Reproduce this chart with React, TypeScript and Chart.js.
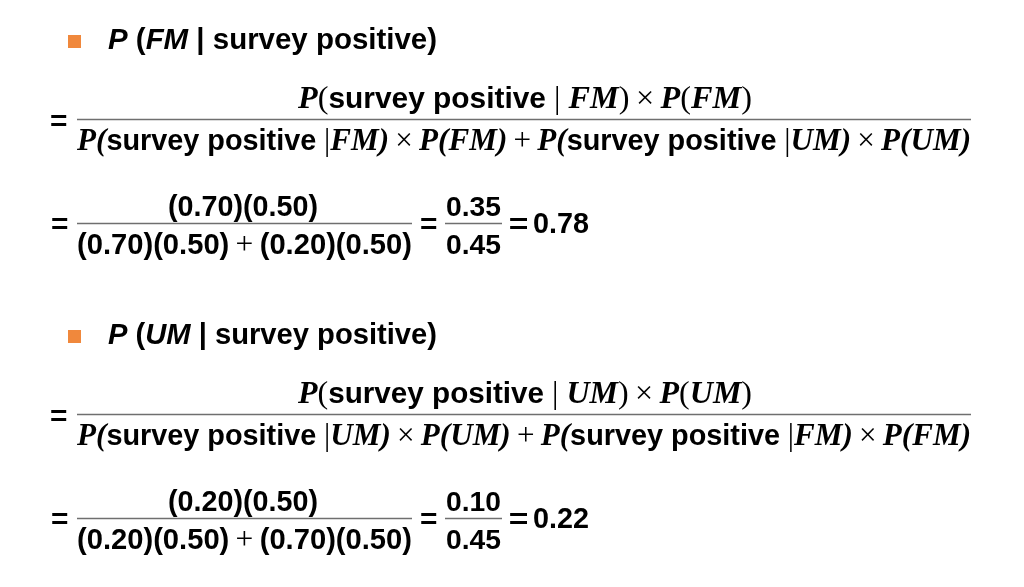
import React, { useEffect, useRef } from "react";
import { Chart, registerables } from "chart.js";

Chart.register(...registerables);

// ---- Data ----
const hypotheses = ["FM", "UM"];
const likelihoods = [0.7, 0.2]; // P(survey positive | H)
const priors = [0.5, 0.5]; // P(H)
const jointProbs = [0.35, 0.1]; // P(survey positive | H) x P(H)
const evidence = [0.45, 0.45]; // P(survey positive)
const posteriors = [0.78, 0.22]; // P(H | survey positive)
const conditionText = "survey positive";

type Style = "b" | "bi" | "m" | "mr";
type Run = [string, Style];

const SANS = '"Liberation Sans", Arial, sans-serif';
const SERIF = '"Liberation Serif", "Times New Roman", serif';
const TS = "\u2009";

function fontFor(style: Style, size: number): string {
  switch (style) {
    case "b":
      return `bold ${size}px ${SANS}`;
    case "bi":
      return `italic bold ${size}px ${SANS}`;
    case "m":
      return `italic bold ${size * 1.08}px ${SERIF}`;
    case "mr":
      return `${size * 1.08}px ${SERIF}`;
  }
}

// Draws runs so that they span x0..x1; font size scaled uniformly
function drawRuns(
  ctx: CanvasRenderingContext2D,
  runs: Run[],
  x0: number,
  x1: number,
  baseline: number,
  size: number
) {
  let w = 0;
  for (const [t, s] of runs) {
    ctx.font = fontFor(s, size);
    w += ctx.measureText(t).width;
  }
  const k = (x1 - x0) / w;
  ctx.save();
  ctx.translate(x0, baseline);
  ctx.scale(k, k);
  ctx.textBaseline = "alphabetic";
  ctx.textAlign = "left";
  let x = 0;
  for (const [t, s] of runs) {
    ctx.font = fontFor(s, size);
    ctx.fillText(t, x, 0);
    x += ctx.measureText(t).width;
  }
  ctx.restore();
}

function drawEq(ctx: CanvasRenderingContext2D, x0: number, x1: number, cy: number, size: number) {
  ctx.font = fontFor("b", size);
  const m = ctx.measureText("=");
  const baseline = cy + (m.actualBoundingBoxAscent - m.actualBoundingBoxDescent) / 2;
  const ox = m.actualBoundingBoxLeft;
  const gw = m.actualBoundingBoxLeft + m.actualBoundingBoxRight;
  ctx.save();
  ctx.translate(x0, baseline);
  ctx.scale((x1 - x0) / gw, 1);
  ctx.textAlign = "left";
  ctx.textBaseline = "alphabetic";
  ctx.fillText("=", ox, 0);
  ctx.restore();
}

function hline(ctx: CanvasRenderingContext2D, x0: number, x1: number, y: number) {
  ctx.save();
  ctx.strokeStyle = "#6f6f6f";
  ctx.lineWidth = 1.3;
  ctx.beginPath();
  ctx.moveTo(x0, y);
  ctx.lineTo(x1, y);
  ctx.stroke();
  ctx.restore();
}

const f2 = (v: number) => v.toFixed(2);

const formulaPlugin = {
  id: "bayesFormula",
  beforeDraw(chart: any) {
    const ctx: CanvasRenderingContext2D = chart.ctx;
    ctx.save();
    ctx.fillStyle = "#ffffff";
    ctx.fillRect(0, 0, chart.width, chart.height);
    ctx.restore();
  },
  afterDraw(chart: any) {
    const ctx: CanvasRenderingContext2D = chart.ctx;
    ctx.save();
    ctx.fillStyle = "#000000";
    hypotheses.forEach((h, i) => {
      const o = i === 0 ? 1 : 0;
      const other = hypotheses[o];
      const dy = i * 295;

      // bullet
      ctx.fillStyle = "#f0883c";
      ctx.fillRect(68, 35 + dy, 13, 13);
      ctx.fillStyle = "#000000";

      // heading
      drawRuns(
        ctx,
        [
          ["P", "bi"],
          [" (", "b"],
          [h, "bi"],
          [" | " + conditionText + ")", "b"],
        ],
        108,
        437,
        49 + dy,
        24
      );

      // symbolic fraction
      drawEq(ctx, 51, 67, 120 + dy, 28);
      drawRuns(
        ctx,
        [
          ["P", "m"],
          ["(", "mr"],
          [conditionText, "b"],
          [" | ", "mr"],
          [h, "m"],
          [")" + TS, "mr"],
          ["\u00d7", "mr"],
          [TS + "P", "m"],
          ["(", "mr"],
          [h, "m"],
          [")", "mr"],
        ],
        298,
        752,
        108 + dy,
        26
      );
      hline(ctx, 77, 971, 119.5 + dy);
      drawRuns(
        ctx,
        [
          ["P(", "m"],
          [conditionText, "b"],
          [" |", "mr"],
          [h + ")", "m"],
          [TS + "\u00d7" + TS, "mr"],
          ["P(" + h + ")", "m"],
          [TS + "+" + TS, "mr"],
          ["P(", "m"],
          [conditionText, "b"],
          [" |", "mr"],
          [other + ")", "m"],
          [TS + "\u00d7" + TS, "mr"],
          ["P(" + other + ")", "m"],
        ],
        77,
        971,
        150 + dy,
        26
      );

      // numeric fraction
      drawEq(ctx, 52, 68, 223 + dy, 28);
      drawRuns(
        ctx,
        [[`(${f2(likelihoods[i])})(${f2(priors[i])})`, "b"]],
        168,
        318,
        216 + dy,
        28
      );
      hline(ctx, 77, 412, 223.5 + dy);
      drawRuns(
        ctx,
        [
          [`(${f2(likelihoods[i])})(${f2(priors[i])})`, "b"],
          [TS + "+" + TS, "mr"],
          [`(${f2(likelihoods[o])})(${f2(priors[o])})`, "b"],
        ],
        77,
        412,
        254 + dy,
        28
      );

      drawEq(ctx, 421, 437, 223 + dy, 28);
      drawRuns(ctx, [[f2(jointProbs[i]), "b"]], 446, 501, 216 + dy, 28);
      hline(ctx, 445, 502, 223.5 + dy);
      drawRuns(ctx, [[f2(evidence[i]), "b"]], 446, 501, 254 + dy, 28);

      drawEq(ctx, 510, 528, 223 + dy, 28);
      drawRuns(ctx, [[f2(posteriors[i]), "b"]], 533, 589, 233 + dy, 28);
    });
    ctx.restore();
  },
};

export default function App() {
  const ref = useRef<HTMLCanvasElement | null>(null);
  useEffect(() => {
    if (!ref.current) return;
    let cancelled = false;
    let chart: Chart | null = null;
    const fontsToLoad = [
      `bold 24px "Liberation Sans"`,
      `italic bold 24px "Liberation Sans"`,
      `italic bold 28px "Liberation Serif"`,
      `28px "Liberation Serif"`,
    ];
    const make = () => {
      if (cancelled || !ref.current) return;
      chart = new Chart(ref.current, {
        type: "bar",
        data: {
          labels: hypotheses,
          datasets: [
            {
              label: "P(H | survey positive)",
              data: posteriors,
              hidden: true,
            },
          ],
        },
        options: {
          responsive: true,
          maintainAspectRatio: false,
          animation: false,
          events: [],
          layout: { padding: 0 },
          plugins: {
            legend: { display: false },
            tooltip: { enabled: false },
            title: { display: false },
          },
          scales: {
            x: { display: false },
            y: { display: false, min: 0, max: 1 },
          },
        },
        plugins: [formulaPlugin],
      });
    };
    const fontsApi: any = (document as any).fonts;
    if (fontsApi && fontsApi.load) {
      Promise.all(fontsToLoad.map((f) => fontsApi.load(f).catch(() => null)))
        .then(make)
        .catch(make);
    } else {
      make();
    }
    return () => {
      cancelled = true;
      if (chart) chart.destroy();
    };
  }, []);
  return (
    <div
      style={{
        position: "absolute",
        left: 0,
        top: 0,
        width: 1024,
        height: 587,
        background: "#ffffff",
      }}
    >
      <canvas ref={ref} />
    </div>
  );
}
